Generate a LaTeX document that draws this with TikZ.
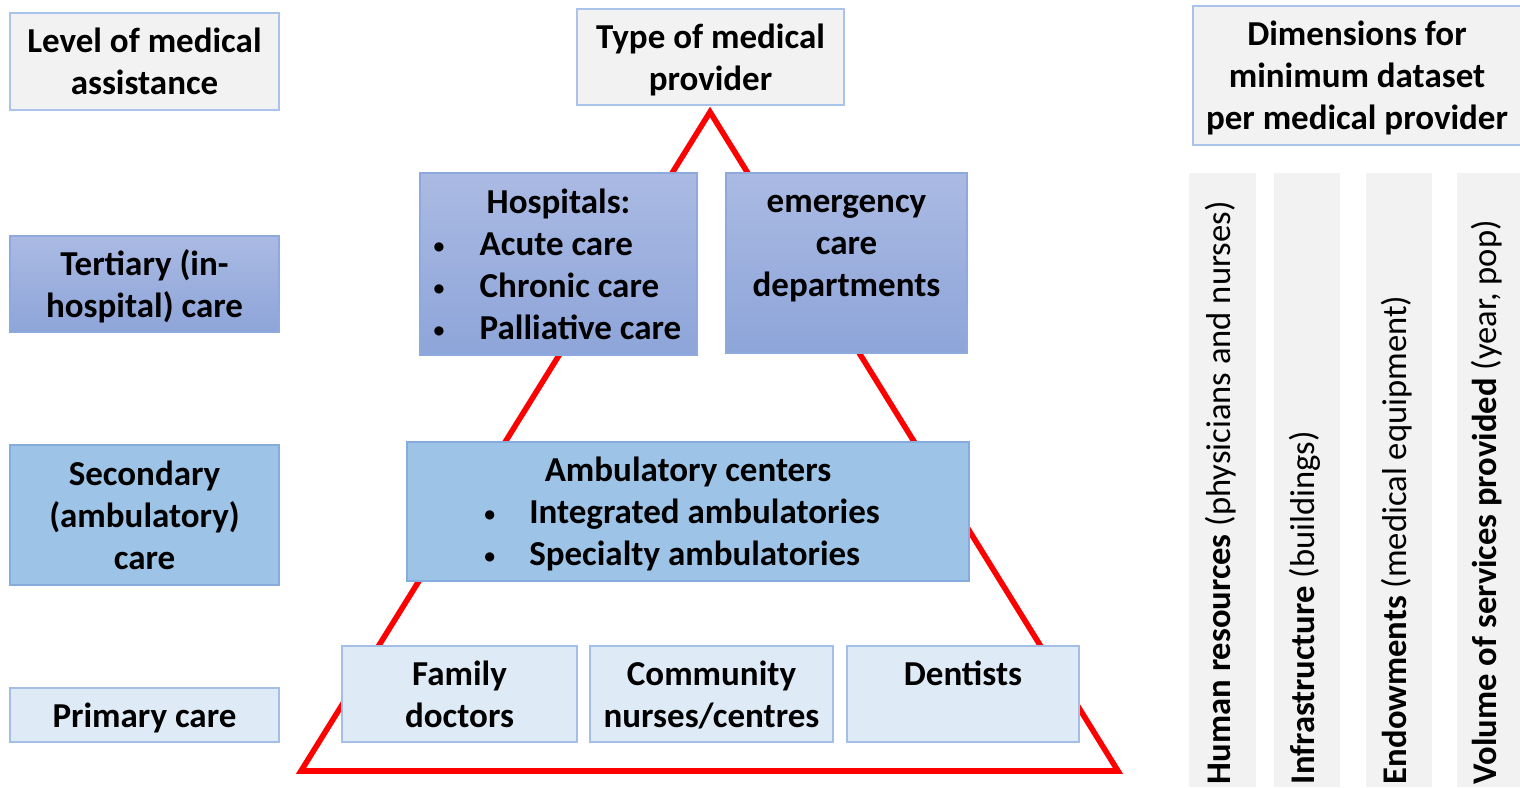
\documentclass[tikz,border=0pt]{standalone}
\usepackage{fontspec}
\usepackage{graphicx}
\setmainfont{Carlito}
\definecolor{grayF}{HTML}{F2F2F2}
\definecolor{grayB}{HTML}{A9C3EA}
\definecolor{terT}{HTML}{AABAE3}
\definecolor{terBot}{HTML}{8EA5D9}
\definecolor{terB}{HTML}{8EA9DB}
\definecolor{secF}{HTML}{9DC3E6}
\definecolor{secB}{HTML}{86ACDD}
\definecolor{priF}{HTML}{DEEBF7}
\definecolor{priB}{HTML}{A4BFE6}
\newcommand{\lowered}[1]{\raisebox{-2pt}[\height][\depth]{#1}}
\newcommand{\mlines}[1]{\lowered{\begin{tabular}{@{}c@{}}#1\end{tabular}}}
\newcommand{\bul}[1]{\makebox[#1][l]{\hspace{-1pt}\raisebox{1.2pt}{\scalebox{0.62}{\textbullet}}}}
\begin{document}
\begin{tikzpicture}[x=0.5pt,y=-0.5pt,
  every node/.style={inner sep=0pt, outer sep=0pt},
  base/.style={font=\fontsize{17.5}{21}\selectfont\bfseries, align=center},
  graybox/.style={base, draw=grayB, fill=grayF, line width=0.7pt},
  terbox/.style={base, draw=terB, top color=terT, bottom color=terBot, line width=0.7pt},
  secbox/.style={base, draw=secB, fill=secF, line width=0.7pt},
  pribox/.style={base, draw=priB, fill=priF, line width=0.7pt},
  strip/.style={fill=grayF, draw=none},
  coltext/.style={rotate=90, anchor=mid west, font=\fontsize{17.3}{21}\selectfont\mdseries},
  tri/.style={draw=red, line width=2.8pt, line join=miter}]
\useasboundingbox (0,0) rectangle (1520,787);

% dimension strips
\node[strip, minimum width=33.5pt, minimum height=307pt] (s1) at (1222.5,480) {};
\node[strip, minimum width=33pt, minimum height=307pt] (s2) at (1307,480) {};
\node[strip, minimum width=33pt, minimum height=307pt] (s3) at (1399,480) {};
\node[strip, minimum width=31.5pt, minimum height=307pt] (s4) at (1488.5,480) {};
\node[coltext] (c1) at (1226,784) {\textbf{Human resources} (physicians and nurses)};
\node[coltext] (c2) at (1310,784) {\textbf{Infrastructure} (buildings)};
\node[coltext] (c3) at (1402,784) {\textbf{Endowments} (medical equipment)};
\node[coltext] (c4) at (1492,784) {\textbf{Volume of services provided} (year, pop)};

% pyramid
\coordinate (apex) at (710,112);
\coordinate (bl) at (301,771);
\coordinate (br) at (1118,771);
\draw[tri] (apex) -- (bl) -- (br) -- cycle;

% left column
\node[graybox, minimum width=134.5pt, minimum height=48.5pt] (lvl) at (144.5,61.5) {\mlines{Level of medical\\assistance}};
\node[terbox, minimum width=134.5pt, minimum height=48pt] (ter) at (144.5,284) {\mlines{Tertiary (in-\\hospital) care}};
\node[secbox, minimum width=134.5pt, minimum height=70pt] (sec) at (144.5,515) {\mlines{Secondary\\(ambulatory)\\care}};
\node[pribox, minimum width=134.5pt, minimum height=27pt] (pri) at (144.5,715) {\mlines{Primary care}};

% headers
\node[graybox, minimum width=133.5pt, minimum height=48pt] (type) at (710.5,57) {\mlines{Type of medical\\provider}};
\node[graybox, minimum width=164pt, minimum height=69.5pt] (dim) at (1357,75.5) {\mlines{Dimensions for\\minimum dataset\\per medical provider}};

% tertiary providers
\node[terbox, minimum width=138.5pt, minimum height=91pt] (hosp) at (558.5,264)
  {\lowered{\begin{tabular}{@{}l@{}l@{}}\multicolumn{2}{c}{Hospitals:}\\ \bul{22pt}&Acute care\\ \bul{22pt}&Chronic care\\ \bul{22pt}&Palliative care\end{tabular}}};
\node[terbox, minimum width=120.5pt, minimum height=90pt] (emer) at (846.5,263) {\mlines{emergency\\care\\departments\\ \strut}};

% secondary providers
\node[secbox, minimum width=281pt, minimum height=69.5pt] (amb) at (688,511.5)
  {\hspace*{-5pt}\lowered{\begin{tabular}{@{}l@{}l@{}}\multicolumn{2}{c}{\hspace*{5pt}Ambulatory centers}\\ \bul{21.5pt}&Integrated ambulatories\\ \bul{21.5pt}&Specialty ambulatories\end{tabular}}};

% primary providers
\node[pribox, minimum width=117.5pt, minimum height=48pt] (fam) at (459.5,694) {\mlines{Family\\doctors}};
\node[pribox, minimum width=121.5pt, minimum height=48pt] (com) at (711.5,694) {\mlines{Community\\nurses/centres}};
\node[pribox, minimum width=116pt, minimum height=48pt] (den) at (963,694) {\mlines{Dentists\\ \strut}};
\end{tikzpicture}
\end{document}
